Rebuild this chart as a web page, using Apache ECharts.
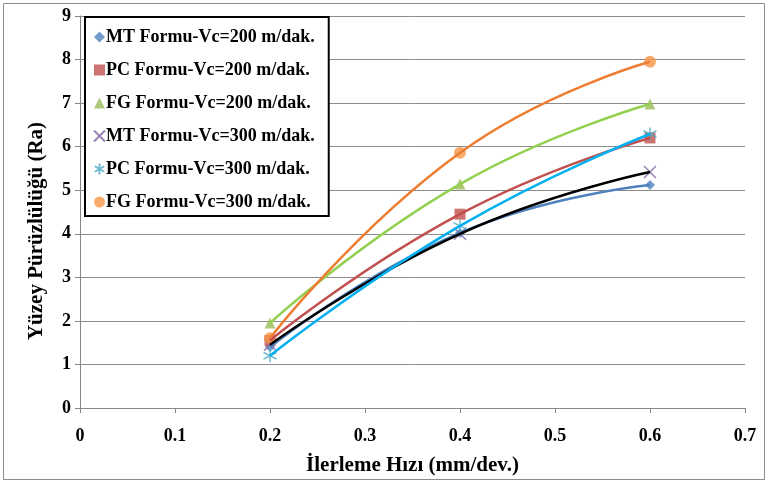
<!DOCTYPE html>
<html><head><meta charset="utf-8">
<script src="https://cdn.jsdelivr.net/npm/echarts@6/dist/echarts.min.js"></script>
<style>html,body{margin:0;padding:0;background:#fff}#c{width:768px;height:484px}</style>
</head><body><div id="c"></div>
<script>
const feedRates = [0.2, 0.4, 0.6];
const seriesNames = ['MT Formu-Vc=200 m/dak.', 'PC Formu-Vc=200 m/dak.', 'FG Formu-Vc=200 m/dak.',
  'MT Formu-Vc=300 m/dak.', 'PC Formu-Vc=300 m/dak.', 'FG Formu-Vc=300 m/dak.'];
const mt200 = [1.40, 4.02, 5.12];
const pc200 = [1.55, 4.45, 6.20];
const fg200 = [1.95, 5.14, 6.98];
const mt300 = [1.45, 4.00, 5.42];
const pc300 = [1.20, 4.18, 6.29];
const fg300 = [1.60, 5.86, 7.95];
const xTicks = [0, 0.1, 0.2, 0.3, 0.4, 0.5, 0.6, 0.7];
const yTicks = [0, 1, 2, 3, 4, 5, 6, 7, 8, 9];

const allValues = [mt200, pc200, fg200, mt300, pc300, fg300];
const markerColors = ['#4F81BD', '#C0504D', '#9BBB59', '#8064A2', '#4BACC6', '#F79646'];
const lineColors = ['#4F81BD', '#C0504D', '#92D050', '#000000', '#00B0F0', '#ED7D31'];
const XPATH = 'path://M0,0L10,10M10,0L0,10';
const STAR = 'path://M5,0L5,10M0.7,2.5L9.3,7.5M0.7,7.5L9.3,2.5';
const symbols = ['diamond', 'rect', 'triangle', XPATH, STAR, 'circle'];
const sizes = [10, 11, 11, 12, 13, 12];
const serif = '"Liberation Serif","Times New Roman",serif';

const series = [];
allValues.forEach((vals, i) => {
  const pts = feedRates.map((x, j) => [x, vals[j]]);
  series.push({
    name: seriesNames[i] + ' trend', type: 'line', data: pts, smooth: 0.5,
    showSymbol: false, symbol: 'none', silent: true, z: 3,
    lineStyle: { color: lineColors[i], width: 2.5 }
  });
});
allValues.forEach((vals, i) => {
  const pts = feedRates.map((x, j) => [x, vals[j]]);
  const stroke = (i === 3 || i === 4);
  series.push({
    name: seriesNames[i], type: 'scatter', data: pts, symbol: symbols[i], symbolSize: sizes[i], z: 2,
    itemStyle: stroke ? { color: markerColors[i], borderColor: markerColors[i], borderWidth: 1.5 }
                      : { color: markerColors[i] }
  });
});

const chart = echarts.init(document.getElementById('c'), null, { renderer: 'canvas' });
chart.setOption({
  animation: false,
  backgroundColor: '#fff',
  grid: { left: 80, right: 23, top: 16, bottom: 76 },
  graphic: [{ type: 'rect', shape: { x: 3.5, y: 3.5, width: 761, height: 476 },
    style: { fill: 'none', stroke: '#8c8c8c', lineWidth: 1 }, silent: true }],
  legend: {
    orient: 'vertical', left: 85, top: 17,
    data: seriesNames.map((n, i) => ({ name: n, icon: symbols[i] })),
    itemWidth: 11, itemHeight: 11, itemGap: 15,
    padding: [11, 14, 5, 8],
    backgroundColor: '#fff', borderColor: '#000', borderWidth: 2,
    textStyle: { fontFamily: serif, fontWeight: 'bold', fontSize: 18, color: '#000', padding: [0, 0, 0, -4] }
  },
  xAxis: {
    type: 'value', min: 0, max: 0.7, interval: 0.1,
    name: 'İlerleme Hızı (mm/dev.)', nameLocation: 'middle', nameGap: 47,
    nameTextStyle: { fontFamily: serif, fontWeight: 'bold', fontSize: 21, color: '#000' },
    axisLine: { show: true, lineStyle: { color: '#868686' } },
    axisTick: { show: true, length: 5, lineStyle: { color: '#868686' } },
    axisLabel: { margin: 19, fontFamily: serif, fontWeight: 'bold', fontSize: 18, color: '#000',
      formatter: v => { const t = xTicks.find(k => Math.abs(k - v) < 1e-9); return t === undefined ? '' : String(t); } },
    splitLine: { show: false }
  },
  yAxis: {
    type: 'value', min: 0, max: 9, interval: 1,
    name: 'Yüzey Pürüzlülüğü (Ra)', nameLocation: 'middle', nameGap: 33,
    nameTextStyle: { fontFamily: serif, fontWeight: 'bold', fontSize: 21, color: '#000', padding: [0, 38, 0, 0] },
    axisLine: { show: true, lineStyle: { color: '#868686' } },
    axisTick: { show: true, length: 5, lineStyle: { color: '#868686' } },
    axisLabel: { margin: 9, fontFamily: serif, fontWeight: 'bold', fontSize: 18, color: '#000',
      formatter: v => { const t = yTicks.find(k => k === v); return t === undefined ? '' : String(t); } },
    splitLine: { show: true, lineStyle: { color: '#8c8c8c', width: 1 } }
  },
  series: series
});
</script></body></html>
